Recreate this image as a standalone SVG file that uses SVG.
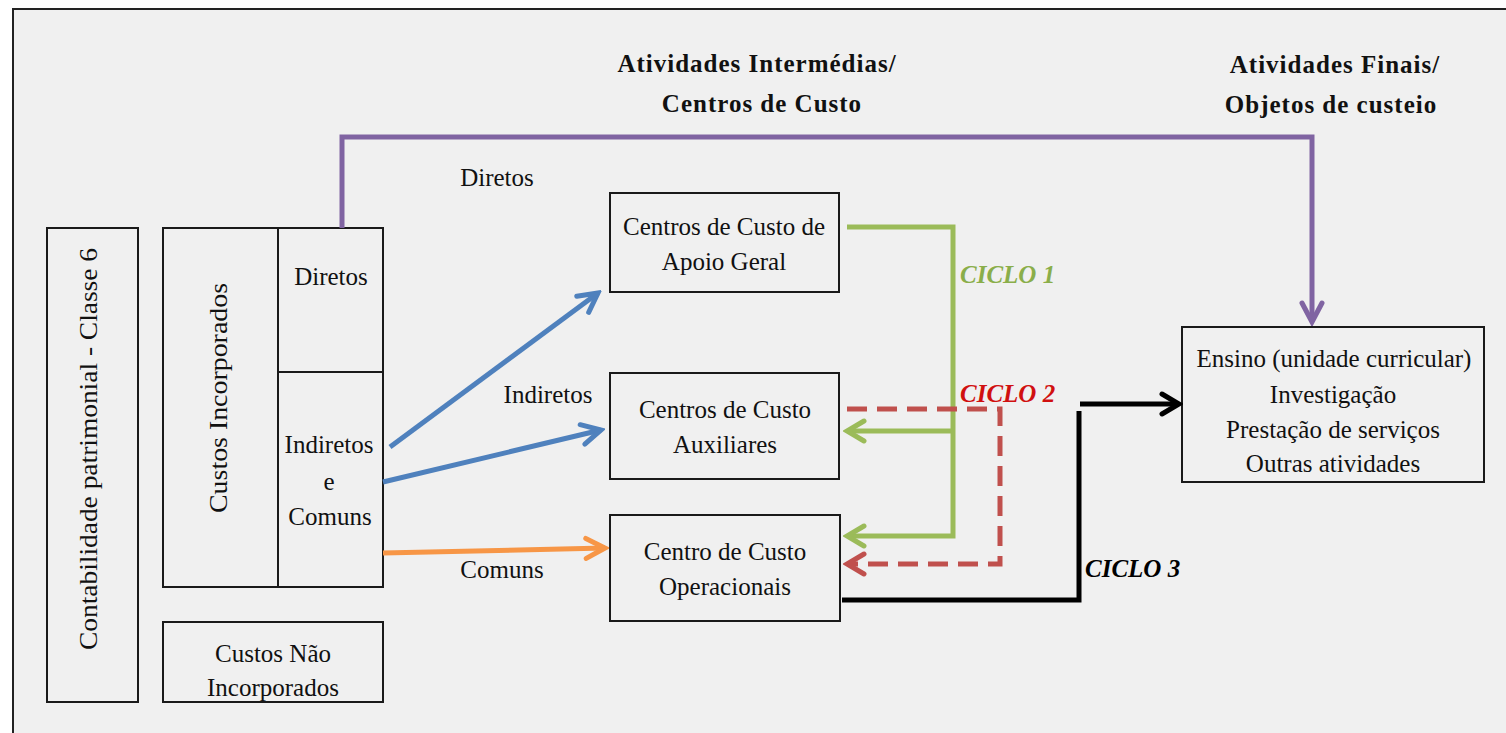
<svg xmlns="http://www.w3.org/2000/svg" width="1506" height="733" viewBox="0 0 1506 733">
<style>
.box{fill:none;stroke:#1a1a1a;stroke-width:2}
.t{font-family:"Liberation Serif","Times New Roman",serif;font-size:25px;fill:#111;text-anchor:middle}
.h{font-family:"Liberation Serif","Times New Roman",serif;font-size:25px;font-weight:bold;fill:#111;text-anchor:middle;letter-spacing:1px}
.c{font-family:"Liberation Serif","Times New Roman",serif;font-size:25px;font-weight:bold;font-style:italic}
.ln{fill:none;stroke-width:5}
</style>
<defs>
<marker id="aPurple" markerUnits="userSpaceOnUse" viewBox="0 0 26 26" markerWidth="26" markerHeight="26" refX="22" refY="13" orient="auto"><path d="M3,3 L22,13 L3,23" fill="none" stroke="#8064a2" stroke-width="5" stroke-linecap="round"/></marker>
<marker id="aBlue" markerUnits="userSpaceOnUse" viewBox="0 0 26 26" markerWidth="26" markerHeight="26" refX="22" refY="13" orient="auto"><path d="M3,3 L22,13 L3,23" fill="none" stroke="#4f81bd" stroke-width="5" stroke-linecap="round"/></marker>
<marker id="aOrange" markerUnits="userSpaceOnUse" viewBox="0 0 26 26" markerWidth="26" markerHeight="26" refX="22" refY="13" orient="auto"><path d="M3,3 L22,13 L3,23" fill="none" stroke="#f79646" stroke-width="5" stroke-linecap="round"/></marker>
<marker id="aGreen" markerUnits="userSpaceOnUse" viewBox="0 0 26 26" markerWidth="26" markerHeight="26" refX="22" refY="13" orient="auto"><path d="M5,3 L22,13 L5,23" fill="none" stroke="#9bbb59" stroke-width="5" stroke-linecap="round"/></marker>
<marker id="aRed" markerUnits="userSpaceOnUse" viewBox="0 0 26 26" markerWidth="26" markerHeight="26" refX="22" refY="13" orient="auto"><path d="M5,3 L22,13 L5,23" fill="none" stroke="#c0504d" stroke-width="5" stroke-linecap="round"/></marker>
<marker id="aBlack" markerUnits="userSpaceOnUse" viewBox="0 0 26 26" markerWidth="26" markerHeight="26" refX="22" refY="13" orient="auto"><path d="M5,3 L22,13 L5,23" fill="none" stroke="#000" stroke-width="5" stroke-linecap="round"/></marker>
</defs>
<rect x="0" y="0" width="1506" height="733" fill="#ffffff"/>
<rect x="13" y="9" width="1510" height="740" fill="#f0f0f0" stroke="#222" stroke-width="2"/>

<g id="headers">
<text class="h" x="757" y="72">Atividades Intermédias/</text>
<text class="h" x="762" y="112">Centros de Custo</text>
<text class="h" x="1335" y="73">Atividades Finais/</text>
<text class="h" x="1331" y="113">Objetos de custeio</text>
</g>

<g id="contabilidade">
<rect class="box" x="47" y="228" width="91" height="474"/>
<text class="t" transform="translate(97,449) rotate(-90)" textLength="402" lengthAdjust="spacingAndGlyphs">Contabilidade patrimonial - Classe 6</text>
</g>

<g id="custos-incorporados">
<rect class="box" x="163" y="228" width="220" height="359"/>
<line class="box" x1="278" y1="228" x2="278" y2="587"/>
<line class="box" x1="278" y1="372" x2="383" y2="372"/>
<text class="t" transform="translate(227,398) rotate(-90)" textLength="230" lengthAdjust="spacingAndGlyphs">Custos Incorporados</text>
</g>
<g id="diretos">
<text class="t" x="331" y="285">Diretos</text>
</g>
<g id="indiretos-comuns">
<text class="t" x="329" y="453">Indiretos</text>
<text class="t" x="329" y="490">e</text>
<text class="t" x="330" y="525">Comuns</text>
</g>

<g id="custos-nao-incorporados">
<rect class="box" x="163" y="622" width="220" height="80"/>
<text class="t" x="273" y="662">Custos Não</text>
<text class="t" x="273" y="696">Incorporados</text>
</g>

<g id="apoio-geral">
<rect class="box" x="610" y="193" width="229" height="99"/>
<text class="t" x="724" y="235">Centros de Custo de</text>
<text class="t" x="724" y="270">Apoio Geral</text>
</g>
<g id="auxiliares">
<rect class="box" x="610" y="373" width="229" height="106"/>
<text class="t" x="725" y="418">Centros de Custo</text>
<text class="t" x="725" y="453">Auxiliares</text>
</g>
<g id="operacionais">
<rect class="box" x="610" y="515" width="230" height="106"/>
<text class="t" x="725" y="560">Centro de Custo</text>
<text class="t" x="725" y="595">Operacionais</text>
</g>

<g id="ensino">
<rect class="box" x="1182" y="327" width="302" height="155"/>
<text class="t" x="1334" y="367">Ensino (unidade curricular)</text>
<text class="t" x="1333" y="403">Investigação</text>
<text class="t" x="1333" y="438">Prestação de serviços</text>
<text class="t" x="1333" y="472">Outras atividades</text>
</g>

<g id="connectors">
<path class="ln" stroke="#8064a2" d="M342,228 V137 H1312 V322" marker-end="url(#aPurple)"/>
<path class="ln" stroke="#4f81bd" d="M390,447 L598,293" marker-end="url(#aBlue)"/>
<path class="ln" stroke="#4f81bd" d="M383,482 L601,430" marker-end="url(#aBlue)"/>
<path class="ln" stroke="#f79646" d="M383,553 L605,548" marker-end="url(#aOrange)"/>
<path class="ln" stroke="#9bbb59" d="M847,227 H953 V536 H847" marker-end="url(#aGreen)"/>
<path class="ln" stroke="#9bbb59" d="M953,431 H847" marker-end="url(#aGreen)"/>
<path class="ln" stroke="#c0504d" stroke-dasharray="20 10" d="M847,409 H1000 V564 H847" marker-end="url(#aRed)"/>
<path class="ln" stroke="#000" d="M842,600 H1079 V411"/>
<path class="ln" stroke="#000" d="M1080,404 H1179" marker-end="url(#aBlack)"/>
<text class="t" x="497" y="186">Diretos</text>
<text class="t" x="548" y="403">Indiretos</text>
<text class="t" x="502" y="578">Comuns</text>
<text class="c" x="960" y="283" fill="#8aae4a">CICLO 1</text>
<text class="c" x="960" y="402" fill="#d01010">CICLO 2</text>
<text class="c" x="1085" y="577" fill="#000">CICLO 3</text>
</g>
</svg>
